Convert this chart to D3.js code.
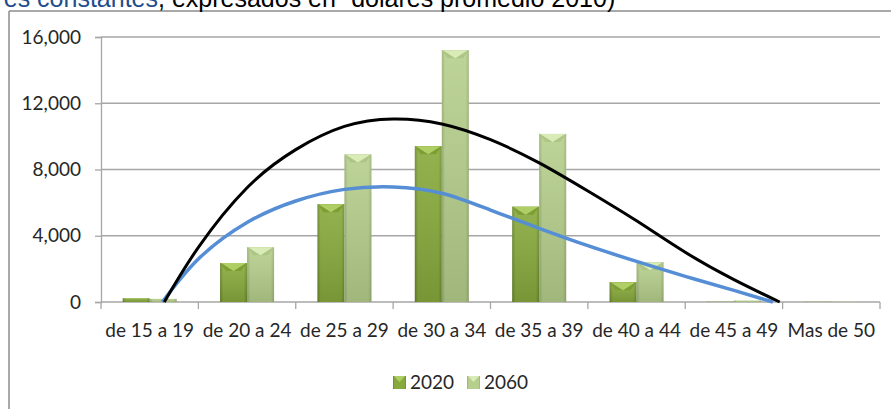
<!DOCTYPE html>
<html><head><meta charset="utf-8">
<script src="https://cdn.jsdelivr.net/npm/d3@7/dist/d3.min.js"></script>
<style>body{margin:0;background:#fff}svg{display:block}</style>
</head><body>
<svg id="chart" width="891" height="409"></svg>
<script>
// ---- data ----
const categories = ["de 15 a 19","de 20 a 24","de 25 a 29","de 30 a 34","de 35 a 39","de 40 a 44","de 45 a 49","Mas de 50"];
const seriesNames = ["2020","2060"];
const values2020 = [230, 2350, 5900, 9400, 5750, 1200, 20, 15];
const values2060 = [190, 3300, 8900, 15200, 10150, 2400, 90, 20];
const yTicks = [0, 4000, 8000, 12000, 16000];
// trend curves: position in category units (0 = first category centre) and value
const trendBluePos = [0.13, 0.5, 1.0, 1.5, 2.0, 2.5, 3.0, 3.5, 4.0, 4.5, 5.0, 5.5, 6.0, 6.4];
const trendBlueVal = [0, 2600, 4800, 6100, 6800, 6950, 6570, 5550, 4450, 3400, 2450, 1550, 700, 0];
const trendBlackPos = [0.15, 0.5, 1.0, 1.5, 2.0, 2.5, 3.0, 3.5, 4.0, 4.5, 5.0, 5.5, 6.0, 6.47];
const trendBlackVal = [0, 3300, 6900, 9200, 10600, 11050, 10750, 9800, 8400, 6700, 4900, 3000, 1350, 0];
const titleBlue = "(en valores constantes";
const titleRest = ", expresados en \u201Cdolares promedio 2010)";

(function(){
// ---- layout ----
const svg = d3.select("#chart");
const pLeft = 101, pRight = 880, pTop = 37, pBottom = 302;
const font = "Lato, 'Open Sans', sans-serif";

const x = d3.scaleBand().domain(categories).range([pLeft, pRight]).paddingInner(0.445).paddingOuter(0.2225);
const xs = d3.scaleBand().domain(seriesNames).range([0, x.bandwidth()]);
const y = d3.scaleLinear().domain([0, 16000]).range([pBottom, pTop]);
const xPos = d3.scaleLinear().domain([0, categories.length - 1])
  .range([x(categories[0]) + x.bandwidth()/2, x(categories[categories.length-1]) + x.bandwidth()/2]);

// gradients
const defs = svg.append("defs");
const palettes = {
  "2020": {edgeL:"#66852a", mid:"#88aa3c", edgeR:"#6a8a2a", cap:"#afcf66", capSide:"#7d9e33"},
  "2060": {edgeL:"#98ae72", mid:"#b6cf8c", edgeR:"#9cb277", cap:"#d9ecb8", capSide:"#adc585"}
};
seriesNames.forEach(s => {
  const p = palettes[s];
  const g = defs.append("linearGradient").attr("id","g"+s).attr("x1",0).attr("x2",1).attr("y1",0).attr("y2",0);
  g.append("stop").attr("offset",0).attr("stop-color",p.edgeL);
  g.append("stop").attr("offset",0.12).attr("stop-color",p.mid);
  g.append("stop").attr("offset",0.88).attr("stop-color",p.mid);
  g.append("stop").attr("offset",1).attr("stop-color",p.edgeR);
  const v = defs.append("linearGradient").attr("id","v"+s).attr("x1",0).attr("x2",0).attr("y1",0).attr("y2",1);
  v.append("stop").attr("offset",0).attr("stop-color","#ffffff").attr("stop-opacity",0.1);
  v.append("stop").attr("offset",1).attr("stop-color","#000000").attr("stop-opacity",0.12);
});

// frame
svg.append("line").attr("x1",9).attr("x2",891).attr("y1",11).attr("y2",11).attr("stroke","#8c8c8c").attr("stroke-width",1.5);
svg.append("line").attr("x1",9).attr("x2",9).attr("y1",11).attr("y2",409).attr("stroke","#8c8c8c").attr("stroke-width",1.5);

// title (cut at top, as in the reference)
const tFont = "'Liberation Sans Narrow','Arial Narrow',sans-serif";
svg.append("text").attr("x",158).attr("y",7).attr("text-anchor","end")
  .attr("font-family",tFont).attr("font-size",25).attr("fill","#1f4e8c").text(titleBlue);
svg.append("text").attr("x",158).attr("y",7)
  .attr("font-family",tFont).attr("font-size",25).attr("fill","#000").text(titleRest);

// gridlines
svg.append("g").selectAll("line").data(yTicks.filter(d=>d>0)).join("line")
  .attr("x1",pLeft).attr("x2",pRight).attr("y1",d=>y(d)).attr("y2",d=>y(d))
  .attr("stroke","#a6a6a6").attr("stroke-width",1.3);

// y axis
const yAxis = svg.append("g").attr("transform",`translate(${pLeft},0)`)
  .call(d3.axisLeft(y).tickValues(yTicks).tickFormat(d3.format(",")).tickSize(6).tickPadding(14));
yAxis.select(".domain").attr("stroke","#a6a6a6").attr("stroke-width",1.3);
yAxis.selectAll(".tick line").attr("stroke","#a6a6a6").attr("stroke-width",1.3);
yAxis.selectAll("text").attr("font-family",font).attr("font-size",19).attr("fill","#262626");

// x axis
const boundaries = categories.map(c => x(c) - (x.step()-x.bandwidth())/2).concat([pRight]);
const xAxisG = svg.append("g");
xAxisG.append("line").attr("x1",pLeft).attr("x2",pRight).attr("y1",pBottom).attr("y2",pBottom).attr("stroke","#a6a6a6").attr("stroke-width",1.3);
xAxisG.selectAll("line.t").data(boundaries).join("line").attr("class","t")
  .attr("x1",d=>d).attr("x2",d=>d).attr("y1",pBottom).attr("y2",pBottom+7).attr("stroke","#a6a6a6").attr("stroke-width",1.3);
xAxisG.selectAll("text").data(categories).join("text")
  .attr("x",d=>x(d)+x.bandwidth()/2).attr("y",337).attr("text-anchor","middle")
  .attr("font-family",font).attr("font-size",19).attr("fill","#262626").text(d=>d);

// bars
const seriesData = {"2020": values2020, "2060": values2060};
const capH = 8;
seriesNames.forEach(s => {
  const g = svg.append("g");
  const rows = categories.map((c,i)=>({c, v: seriesData[s][i]}));
  const bx = d => x(d.c) + xs(s), bw = xs.bandwidth();
  g.selectAll("rect.b").data(rows).join("rect").attr("class","b")
    .attr("x",bx).attr("width",bw).attr("y",d=>y(d.v)).attr("height",d=>y(0)-y(d.v))
    .attr("fill",`url(#g${s})`);
  g.selectAll("rect.s").data(rows).join("rect").attr("class","s")
    .attr("x",bx).attr("width",bw).attr("y",d=>y(d.v)).attr("height",d=>y(0)-y(d.v))
    .attr("fill",`url(#v${s})`);
  g.selectAll("path.cap").data(rows.filter(d => y(0)-y(d.v) > capH+2)).join("path").attr("class","cap")
    .attr("d", d => { const x0=bx(d), x1=x0+bw, y0=y(d.v);
      return `M${x0},${y0}L${x1},${y0}L${x1-6},${y0+capH}L${x0+6},${y0+capH}Z`; })
    .attr("fill", palettes[s].capSide);
  g.selectAll("path.tri").data(rows.filter(d => y(0)-y(d.v) > capH+2)).join("path").attr("class","tri")
    .attr("d", d => { const x0=bx(d), x1=x0+bw, y0=y(d.v);
      return `M${x0+1},${y0}L${x1-1},${y0}L${(x0+x1)/2},${y0+capH}Z`; })
    .attr("fill", palettes[s].cap);
});

// trend lines
const line = d3.line().x(d=>xPos(d[0])).y(d=>y(d[1])).curve(d3.curveNatural);
svg.append("path").datum(trendBluePos.map((p,i)=>[p, trendBlueVal[i]]))
  .attr("d",line).attr("fill","none").attr("stroke","#558ed5").attr("stroke-width",3.5);
svg.append("path").datum(trendBlackPos.map((p,i)=>[p, trendBlackVal[i]]))
  .attr("d",line).attr("fill","none").attr("stroke","#000").attr("stroke-width",3);

// legend
const legendX = [393, 467];
seriesNames.forEach((s,i) => {
  const g = svg.append("g").attr("transform",`translate(${legendX[i]},376)`);
  g.append("rect").attr("width",13).attr("height",13).attr("fill",`url(#g${s})`);
  g.append("path").attr("d","M1,0L12,0L6.5,6Z").attr("fill",palettes[s].cap);
  g.append("text").attr("x",17).attr("y",13).attr("font-family",font).attr("font-size",19).attr("fill","#262626").text(s);
});
})();
</script>
</body></html>
